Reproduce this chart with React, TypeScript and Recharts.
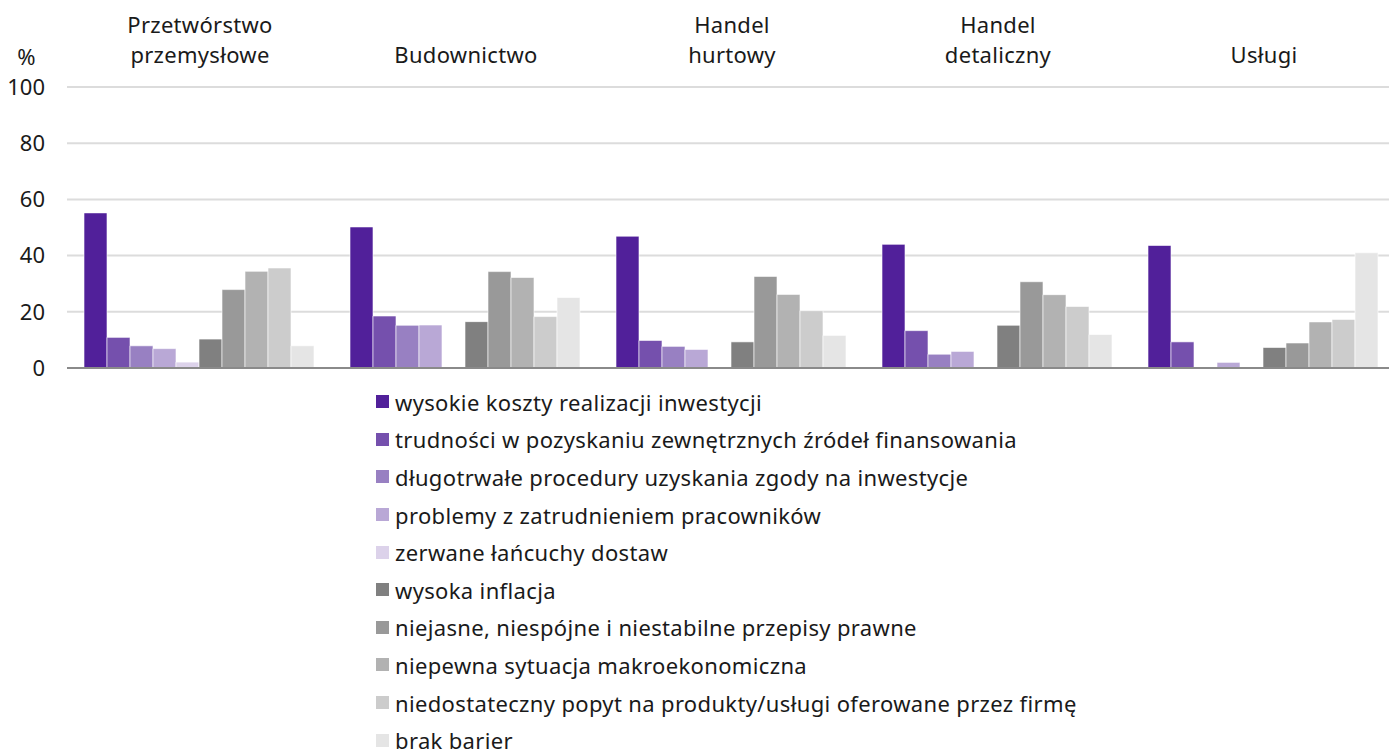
import React from 'react';
import { BarChart, Bar, XAxis, YAxis, CartesianGrid, Legend, ReferenceLine } from 'recharts';

const categories = ['Przetwórstwo\nprzemysłowe', 'Budownictwo', 'Handel\nhurtowy', 'Handel\ndetaliczny', 'Usługi'];

const seriesNames = [
  'wysokie koszty realizacji inwestycji',
  'trudności w pozyskaniu zewnętrznych źródeł finansowania',
  'długotrwałe procedury uzyskania zgody na inwestycje',
  'problemy z zatrudnieniem pracowników',
  'zerwane łańcuchy dostaw',
  'wysoka inflacja',
  'niejasne, niespójne i niestabilne przepisy prawne',
  'niepewna sytuacja makroekonomiczna',
  'niedostateczny popyt na produkty/usługi oferowane przez firmę',
  'brak barier',
];

const wysokieKoszty = [55.2, 50.2, 46.9, 44.0, 43.6];
const trudnosciFinansowanie = [10.9, 18.5, 9.8, 13.3, 9.3];
const dlugotrwaleProcedury = [7.9, 15.2, 7.7, 4.9, 0];
const problemyZatrudnienie = [6.9, 15.3, 6.6, 5.9, 2.0];
const zerwaneLancuchy = [2.1, 0, 0, 0, 0];
const wysokaInflacja = [10.3, 16.5, 9.3, 15.2, 7.3];
const niejasnePrzepisy = [27.9, 34.3, 32.6, 30.7, 8.9];
const niepewnaSytuacja = [34.4, 32.2, 26.2, 26.1, 16.4];
const niedostatecznyPopyt = [35.6, 18.3, 20.4, 21.9, 17.3];
const brakBarier = [7.9, 25.1, 11.6, 11.9, 41.0];

const yTicks = [0, 20, 40, 60, 80, 100];

const colors = ['#51209a', '#7550ad', '#9880c2', '#b9a8d6', '#dcd2ea', '#808080', '#999999', '#b2b2b2', '#cccccc', '#e5e5e5'];

const allSeries = [
  wysokieKoszty, trudnosciFinansowanie, dlugotrwaleProcedury, problemyZatrudnienie, zerwaneLancuchy,
  wysokaInflacja, niejasnePrzepisy, niepewnaSytuacja, niedostatecznyPopyt, brakBarier,
];

const data = categories.map((cat, i) => {
  const row: Record<string, string | number> = { name: cat };
  allSeries.forEach((s, k) => { row['s' + k] = s[i]; });
  return row;
});

const FONT = '"Noto Sans", sans-serif';

const CategoryTick = (props: any) => {
  const { x, y, payload } = props;
  const lines = String(payload.value).split('\n');
  return (
    <g>
      {lines.map((line, i) => (
        <text
          key={i}
          x={x}
          y={y - 24 - (lines.length - 1 - i) * 30}
          textAnchor="middle"
          fontSize={22}
          fontFamily={FONT}
          letterSpacing={0.3}
          fill="#1a1a1a"
        >
          {line}
        </text>
      ))}
    </g>
  );
};

const LegendList = () => (
  <div style={{ height: 392, boxSizing: 'border-box', paddingTop: 15, paddingLeft: 376, textAlign: 'left', fontFamily: FONT }}>
    {seriesNames.map((name, i) => (
      <div key={name} style={{ height: 37.6, display: 'flex', alignItems: 'center', fontSize: 22, letterSpacing: 0.35, color: '#1a1a1a', whiteSpace: 'nowrap' }}>
        <span style={{ width: 13, height: 13, backgroundColor: colors[i], display: 'inline-block', marginRight: 6, flexShrink: 0 }}></span>
        <span>{name}</span>
      </div>
    ))}
  </div>
);

export default function App() {
  return (
    <div style={{ position: 'fixed', top: 0, left: 0, width: 1389, height: 749, overflow: 'hidden', background: '#fff' }}>
      <BarChart
        width={1400}
        height={760}
        data={data}
        margin={{ top: 0, right: 3, left: 0, bottom: 0 }}
        barCategoryGap={17}
        barGap={0}
      >
        <CartesianGrid vertical={false} stroke="#dcdcdc" strokeWidth={2} />
        <XAxis
          dataKey="name"
          orientation="top"
          height={87}
          axisLine={false}
          tickLine={false}
          tickSize={0}
          tickMargin={0}
          interval={0}
          tick={<CategoryTick />}
        />
        <YAxis
          width={67}
          domain={[0, 100]}
          ticks={yTicks}
          axisLine={false}
          tickLine={false}
          tickSize={0}
          tickMargin={22}
          tick={{ fontSize: 22, fontFamily: FONT, fill: '#1a1a1a' }}
          label={{ value: '%', position: 'top', offset: 22, dx: -7, fontSize: 22, fontFamily: FONT, fill: '#1a1a1a' }}
        />
        {seriesNames.map((name, i) => (
          <Bar
            key={name}
            dataKey={'s' + i}
            name={name}
            fill={colors[i]}
            stroke="#ffffff"
            strokeOpacity={0.6}
            strokeWidth={1}
            isAnimationActive={false}
          />
        ))}
        <ReferenceLine y={0} stroke="#8a8a8a" strokeWidth={2} />
        <Legend
          verticalAlign="bottom"
          content={<LegendList />}
          wrapperStyle={{ left: 0, width: 1389 }}
        />
      </BarChart>
    </div>
  );
}
